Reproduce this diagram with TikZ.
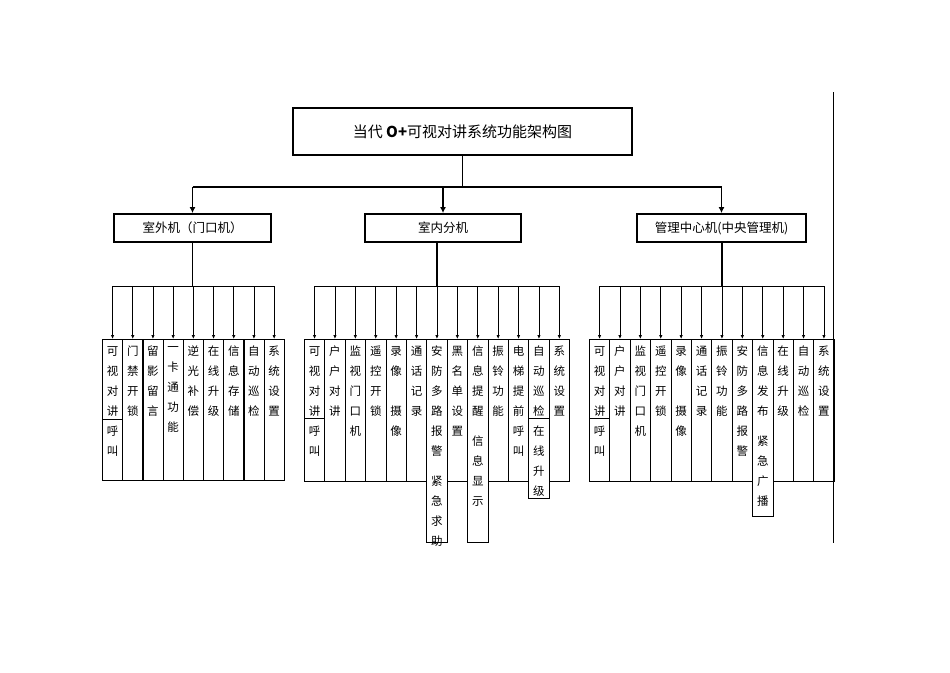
\documentclass[tikz,border=0pt]{standalone}
\usepackage{fontspec}
\setmainfont{Liberation Serif}
\newfontfamily\cjk{Noto Sans CJK SC}
\usetikzlibrary{arrows.meta}
\tikzset{
  thin line/.style={line width=0.8pt},
  bold line/.style={line width=1.8pt},
  arr/.style={thin line,-{Latex[length=4pt,width=3.5pt]}},
  barr/.style={bold line,-{Latex[length=6pt,width=6pt]}},
  colbox/.style={draw,thin line,anchor=north west,inner sep=0pt,minimum width=20.3pt},
  coltext/.style={anchor=north,inner sep=0pt,align=center,font=\cjk\fontsize{11.5}{20}\selectfont},
  grpbox/.style={draw,bold line,minimum height=28pt,inner sep=0pt,font=\cjk\fontsize{12.5}{14}\selectfont},
}
\newcommand\cbox[4]{%
  \node[colbox,minimum height=#3pt] (#1) at (#2,339) {};
  \node[coltext] (#1t) at (#1.north |- 0,346) {#4};}
\begin{document}
\begin{tikzpicture}[x=1pt,y=-1pt]
\useasboundingbox (0,0) rectangle (950,672);
\draw[thin line] (833,92) -- (833,543);
\node[draw,bold line,minimum width=339pt,minimum height=47pt,inner sep=0pt,font=\fontsize{15}{17}\selectfont] (T) at (462.5,131.5) {\cjk 当代 \textbf{O+}可视对讲系统功能架构图};
\node[grpbox,minimum width=157pt] (G1) at (192.5,228) {室外机（门口机）};
\node[grpbox,minimum width=156pt] (G2) at (443,228) {室内分机};
\node[grpbox,minimum width=169pt] (G3) at (721.5,228) {管理中心机(中央管理机)};
\coordinate (J) at (T.south |- 0,187);
\coordinate (J1) at (G1.north |- 0,187);
\coordinate (J3) at (G3.north |- 0,187);
\draw[bold line] (T.south) -- (J);
\draw[bold line] (J1) -- (J3);
\draw[barr] (J1) -- (G1.north);
\draw[barr] (G2.north |- 0,187) -- (G2.north);
\draw[barr] (J3) -- (G3.north);
% left columns
\cbox{a1}{102}{141}{可\\视\\对\\讲\\呼\\叫}
\cbox{a2}{122.2}{141}{门\\禁\\开\\锁}
\cbox{a3}{142.4}{141}{留\\影\\留\\言}
\cbox{a4}{162.6}{141}{一\\卡\\通\\功\\能}
\cbox{a5}{182.8}{141}{逆\\光\\补\\偿}
\cbox{a6}{203}{141}{在\\线\\升\\级}
\cbox{a7}{223.2}{141}{信\\息\\存\\储}
\cbox{a8}{243.4}{141}{自\\动\\巡\\检}
\cbox{a9}{263.6}{141}{系\\统\\设\\置}
\draw[thin line] (a1.west |- 0,419) -- (a1.east |- 0,419);
% middle columns
\cbox{b1}{304}{142}{可\\视\\对\\讲\\呼\\叫}
\cbox{b2}{324.4}{142}{户\\户\\对\\讲}
\cbox{b3}{344.8}{142}{监\\视\\门\\口\\机}
\cbox{b4}{365.2}{142}{遥\\控\\开\\锁}
\cbox{b5}{385.6}{142}{录\\像\\[20pt]摄\\像}
\cbox{b6}{406}{142}{通\\话\\记\\录}
\cbox{b7}{426.4}{203}{安\\防\\多\\路\\报\\警\\[10pt]紧\\急\\求\\助}
\cbox{b8}{446.8}{142}{黑\\名\\单\\设\\置}
\cbox{b9}{467.2}{203}{信\\息\\提\\醒\\[10pt]信\\息\\显\\示}
\cbox{b10}{487.6}{142}{振\\铃\\功\\能}
\cbox{b11}{508}{142}{电\\梯\\提\\前\\呼\\叫}
\cbox{b12}{528.4}{159}{自\\动\\巡\\检\\在\\线\\升\\级}
\cbox{b13}{548.8}{142}{系\\统\\设\\置}
\draw[thin line] (b1.west |- 0,418) -- (b1.east |- 0,418);
\draw[thin line] (b12.west |- 0,418) -- (b12.east |- 0,418);
% right columns
\cbox{c1}{589}{142}{可\\视\\对\\讲\\呼\\叫}
\cbox{c2}{609.4}{142}{户\\户\\对\\讲}
\cbox{c3}{629.8}{142}{监\\视\\门\\口\\机}
\cbox{c4}{650.2}{142}{遥\\控\\开\\锁}
\cbox{c5}{670.6}{142}{录\\像\\[20pt]摄\\像}
\cbox{c6}{691}{142}{通\\话\\记\\录}
\cbox{c7}{711.4}{142}{振\\铃\\功\\能}
\cbox{c8}{731.8}{142}{安\\防\\多\\路\\报\\警}
\cbox{c9}{752.2}{177}{信\\息\\发\\布\\[10pt]紧\\急\\广\\播}
\cbox{c10}{772.6}{142}{在\\线\\升\\级}
\cbox{c11}{793}{142}{自\\动\\巡\\检}
\cbox{c12}{813.4}{142}{系\\统\\设\\置}
\draw[thin line] (c1.west |- 0,418) -- (c1.east |- 0,418);
% connectors
\coordinate (H1) at (G1.south |- 0,286);
\draw[bold line] (G1.south) -- (H1);
\draw[thin line] (a1.north |- 0,286) -- (a9.north |- 0,286);
\foreach \k in {1,...,9} \draw[arr] (a\k.north |- 0,286) -- (a\k.north);
\coordinate (H2) at (437,286);
\draw[bold line] (G2.south -| H2) -- (H2);
\draw[thin line] (b1.north |- 0,286) -- (b13.north |- 0,286);
\foreach \k in {1,...,13} \draw[arr] (b\k.north |- 0,286) -- (b\k.north);
\coordinate (H3) at (722,286);
\draw[bold line] (G3.south -| H3) -- (H3);
\draw[thin line] (c1.north |- 0,286) -- (c12.north |- 0,286);
\foreach \k in {1,...,12} \draw[arr] (c\k.north |- 0,286) -- (c\k.north);
\end{tikzpicture}
\end{document}
